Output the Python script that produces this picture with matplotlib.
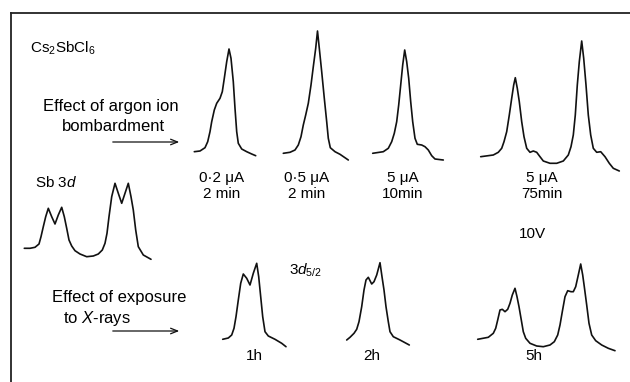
import matplotlib.pyplot as plt

plt.rcParams['font.family'] = ['Liberation Sans', 'DejaVu Sans']
plt.rcParams['mathtext.fontset'] = 'custom'
plt.rcParams['mathtext.rm'] = 'Liberation Sans'
plt.rcParams['mathtext.it'] = 'Liberation Sans:italic'

# spectra: energy offset, intensity above the left baseline
sb3d_x = [0, 5.7, 10.7, 14.7, 16.7, 19, 21.4, 24, 27.4, 30.7, 34, 37.4, 40, 42.4, 44.7, 47.4, 50.7, 55.7, 62.4,
          69, 74, 78, 80.7, 82.7, 84.7, 87.4, 90.7, 94, 97.4, 100.7, 104, 106.7, 109, 111.4, 114, 119, 126.7]
sb3d_y = [0, 0, 1, 4.3, 11.6, 21.6, 31.6, 40, 31.6, 24.3, 33.3, 41, 31.6, 20, 8.3, 2.3, -2.4, -5.7, -8.4,
          -7.7, -5.7, -1.7, 5, 15, 31.6, 51.6, 65, 55, 45, 55, 65, 51.6, 38.3, 18.3, 1.6, -6.7, -11]

ar02_x = [0, 5.7, 10.7, 13.4, 15.7, 17.4, 20, 22.4, 25.7, 28, 30, 32.4, 34.7, 36.7, 39, 40.7, 42.4, 44, 47.4,
          52.4, 57.4, 61.4]
ar02_y = [0, 0.7, 4, 10, 20, 30, 41.7, 48.4, 53.4, 60, 73.4, 90, 102.7, 93.4, 70, 43.4, 20, 8.4, 2.7,
          0, -2.3, -4]

ar05_x = [0, 6.7, 11.7, 15, 17.7, 20, 22.4, 25, 27.7, 30, 32.4, 34.2, 36, 38.4, 41, 43.4, 45, 47, 51.7, 56.7, 65]
ar05_y = [0, 1, 3.3, 8.3, 16.6, 28.3, 38.3, 50, 68.3, 86.6, 105, 122.3, 105, 81.6, 55, 31.6, 15, 5.6, 1.6, -1, -6.7]

ar10_x = [0, 10.6, 15.6, 19, 21.6, 24, 26, 28, 30, 32, 34, 36, 38, 40, 42.3, 44.6, 49, 52.3, 55.6, 59, 62.3, 70.6]
ar10_y = [0, 1.6, 5, 11.6, 20, 31.6, 48.3, 68.3, 88.3, 103.3, 91.6, 75, 51.6, 31.6, 15, 9, 8.3, 6.6, 3.3, -2.4,
          -5.7, -6.7]

ar75_x = [0, 12.6, 17.6, 21, 23.3, 26, 28.6, 31, 33, 34.6, 36.6, 38.6, 41, 43.3, 46, 49.3, 52.6, 56, 59.3, 62.6,
          69.3, 76, 82.6, 87.6, 90.3, 92.6, 94.6, 96.6, 98.6, 101, 103, 105.3, 107.6, 110, 112.6, 116, 120,
          124.3, 128.6, 132.6, 138.6]
ar75_y = [0, 1.7, 4.4, 8.4, 15, 25, 41.7, 58.4, 71.7, 79, 68.4, 55, 35, 20, 8.4, 4.4, 5.7, 4.4, 0, -4.3,
          -6.6, -6.6, -4.3, 1.7, 10, 21.7, 41.7, 71.7, 95, 115.7, 98.4, 71.7, 41.7, 21.7, 8.4, 4.4, 5,
          0, -6.6, -11.6, -14.3]

xr1_x = [0, 5.6, 9, 11.3, 13.3, 15.6, 18, 20.6, 24, 27.3, 30.6, 34, 36, 38, 40, 42.3, 45.6, 52.3, 59, 63.3]
xr1_y = [0, 1.3, 4.3, 11, 22.6, 39.3, 56, 65.3, 61, 54.3, 66, 76, 62.6, 42.6, 22.6, 7.6, 3.3, 0, -4, -7.4]

xr2_x = [0, 3.3, 7.3, 10, 12.3, 15, 17.3, 19.3, 21.6, 25, 27.3, 30, 33.3, 35.3, 37.3, 39.3, 41.6, 43.3, 46.6,
         53.3, 62.6]
xr2_y = [0, 2.7, 6.7, 10.7, 18.3, 33.3, 50, 60, 62.7, 56, 58.3, 65, 77.3, 63.3, 50, 33.3, 18.3, 8.3, 3.3,
         0, -5]

xr5_x = [0, 10.6, 15.6, 18, 20, 22.3, 24.6, 27.3, 30, 32.3, 34.6, 37.3, 39.3, 41.3, 43.3, 45.6, 48, 52.3, 59,
         65.6, 72.3, 76.6, 80, 82.3, 84.6, 87.3, 90, 93.3, 95.6, 98, 100.6, 103, 105, 106.6, 109, 111.3, 114,
         118, 124, 130.6, 137.3]
xr5_y = [0, 2, 6, 11, 19.3, 29.3, 30, 27.6, 30, 36, 44.3, 51, 42.6, 32.6, 21, 7.6, 1, -4, -6.7,
         -7.4, -5.7, -2.4, 4.3, 14.3, 27.6, 42.6, 48.6, 47.6, 47.6, 52.6, 64.3, 75.3, 64.3, 52.6, 34.3, 16, 4.3,
         -1.4, -5.7, -9, -11.4]

argon_labels = ['0·2 μA\n2 min', '0·5 μA\n2 min', '5 μA\n10min', '5 μA\n75min']
xray_labels = ['1h', '2h', '5h']

# where each trace sits on the page (left end, baseline)
spectra = [
    (sb3d_x, sb3d_y, 24.3, 248.3),
    (ar02_x, ar02_y, 194.3, 151.7),
    (ar05_x, ar05_y, 283.3, 153.3),
    (ar10_x, ar10_y, 372.7, 153.3),
    (ar75_x, ar75_y, 480.7, 156.7),
    (xr1_x, xr1_y, 222.7, 339.3),
    (xr2_x, xr2_y, 346.7, 340),
    (xr5_x, xr5_y, 477.7, 339.3),
]

fig = plt.figure(figsize=(6.3, 3.82), dpi=100)
ax = fig.add_axes([11 / 630, 0, 1 - 11 / 630, (382 - 13) / 382])
ax.set_xlim(11, 630)
ax.set_ylim(382, 13)
ax.set_xticks([])
ax.set_yticks([])
for s in ['bottom', 'right']:
    ax.spines[s].set_visible(False)
for s in ['top', 'left']:
    ax.spines[s].set_linewidth(1.3)
    ax.spines[s].set_color('#222222')

for xs, ys, x0, y0 in spectra:
    ax.plot([x0 + v for v in xs], [y0 - v for v in ys], color='#111111', lw=1.2,
            solid_joinstyle='round', solid_capstyle='round')

fs = 11
big = 12
ax.text(30, 48, 'Cs$_2$SbCl$_6$', fontsize=fs, ha='left', va='center')
ax.text(111, 107, 'Effect of argon ion', fontsize=big, ha='center', va='center')
ax.text(113, 127, 'bombardment', fontsize=big, ha='center', va='center')
ax.annotate('', xy=(182, 142), xytext=(110, 142),
            arrowprops=dict(arrowstyle='->,head_length=0.5,head_width=0.2', lw=0.9, color='#111111'))

for lab, xc in zip(argon_labels, [222, 307, 403, 542]):
    ax.text(xc, 186, lab, fontsize=fs, ha='center', va='center', linespacing=1.1)
ax.text(532, 234, '10V', fontsize=fs, ha='center', va='center')

ax.text(56, 183, 'Sb 3$d$', fontsize=fs, ha='center', va='center')
ax.text(289, 270, '3$d_{5/2}$', fontsize=fs, ha='left', va='center')

ax.text(119, 298, 'Effect of exposure', fontsize=big, ha='center', va='center')
ax.text(97, 319, 'to $X$-rays', fontsize=big, ha='center', va='center')
ax.annotate('', xy=(182, 331), xytext=(110, 331),
            arrowprops=dict(arrowstyle='->,head_length=0.5,head_width=0.2', lw=0.9, color='#111111'))

for lab, xc in zip(xray_labels, [254, 372, 534]):
    ax.text(xc, 356, lab, fontsize=fs, ha='center', va='center')

fig.savefig('out.png', dpi=100)
